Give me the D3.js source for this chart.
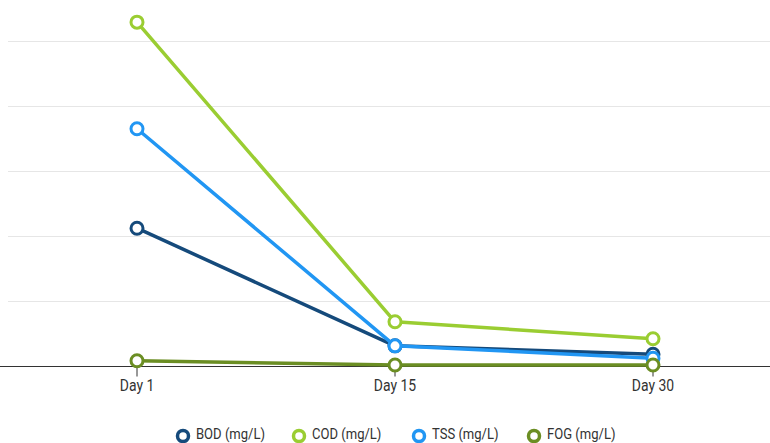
<!DOCTYPE html>
<html>
<head>
<meta charset="utf-8">
<script src="https://cdn.jsdelivr.net/npm/d3@7"></script>
<style>
  body { margin: 0; background: #fff; }
  text { font-family: Roboto, "Noto Sans", sans-serif; }
</style>
</head>
<body>
<svg id="chart" width="770" height="443"></svg>
<script>
// data (mg/L)
var days = ['Day 1', 'Day 15', 'Day 30'];
var bod = [212, 31, 18];
var cod = [529, 68, 42];
var tss = [365, 31, 12];
var fog = [8, 1.5, 1.5];
var seriesNames = ['BOD (mg/L)', 'COD (mg/L)', 'TSS (mg/L)', 'FOG (mg/L)'];
var seriesColors = ['#154a7b', '#9acd32', '#2196f3', '#6b8e23'];
var yTicks = [0, 100, 200, 300, 400, 500];

var series = [bod, cod, tss, fog].map(function (vals, i) {
    return { name: seriesNames[i], color: seriesColors[i], values: vals };
});

var svg = d3.select('#chart');
var squeeze = 0.87; // reference font looks condensed

var x = d3.scaleBand().domain(days).range([8, 782]);
var y = d3.scaleLinear().domain([0, 600]).range([366, -24]);

// grid
svg.append('g')
    .selectAll('line')
    .data(yTicks.filter(function (d) { return d > 0; }))
    .enter()
    .append('line')
    .attr('x1', 8).attr('x2', 770)
    .attr('y1', function (d) { return Math.round(y(d)) + 0.5; })
    .attr('y2', function (d) { return Math.round(y(d)) + 0.5; })
    .attr('stroke', '#e6e6e6')
    .attr('stroke-width', 1);

// x axis
var xAxis = svg.append('g')
    .attr('transform', 'translate(0,' + (y(0) + 0.5) + ')')
    .call(d3.axisBottom(x).tickSize(10).tickPadding(3));
xAxis.select('.domain').attr('d', 'M0,0H770').attr('stroke', '#333');
xAxis.selectAll('.tick line').attr('stroke', '#333');
xAxis.selectAll('.tick text')
    .attr('fill', '#333')
    .attr('transform', 'scale(' + squeeze + ',1)')
    .style('font-size', '16px')
    .style('font-family', 'Roboto, sans-serif');

var cx = function (d, i) { return x(days[i]) + x.bandwidth() / 2; };

var line = d3.line()
    .x(function (d, i) { return cx(d, i); })
    .y(function (d) { return y(d); });

var groups = svg.append('g')
    .selectAll('g')
    .data(series)
    .enter()
    .append('g');

groups.append('path')
    .attr('d', function (s) { return line(s.values); })
    .attr('fill', 'none')
    .attr('stroke', function (s) { return s.color; })
    .attr('stroke-width', 3.5)
    .attr('stroke-linejoin', 'round');

groups.each(function (s) {
    d3.select(this).selectAll('circle')
        .data(s.values)
        .enter()
        .append('circle')
        .attr('cx', cx)
        .attr('cy', function (d) { return y(d); })
        .attr('r', 6)
        .attr('fill', '#fff')
        .attr('stroke', s.color)
        .attr('stroke-width', 3);
});

// legend
var legendX = [183, 299, 419, 534];
var legend = svg.append('g')
    .selectAll('g')
    .data(series)
    .enter()
    .append('g')
    .attr('transform', function (d, i) { return 'translate(' + legendX[i] + ',436)'; });

legend.append('circle')
    .attr('r', 5.5)
    .attr('fill', '#fff')
    .attr('stroke', function (d) { return d.color; })
    .attr('stroke-width', 3.5);

legend.append('text')
    .attr('x', 13 / squeeze)
    .attr('y', 3)
    .attr('transform', 'scale(' + squeeze + ',1)')
    .attr('fill', '#333')
    .style('font-size', '15px')
    .text(function (d) { return d.name; });
</script>
</body>
</html>
